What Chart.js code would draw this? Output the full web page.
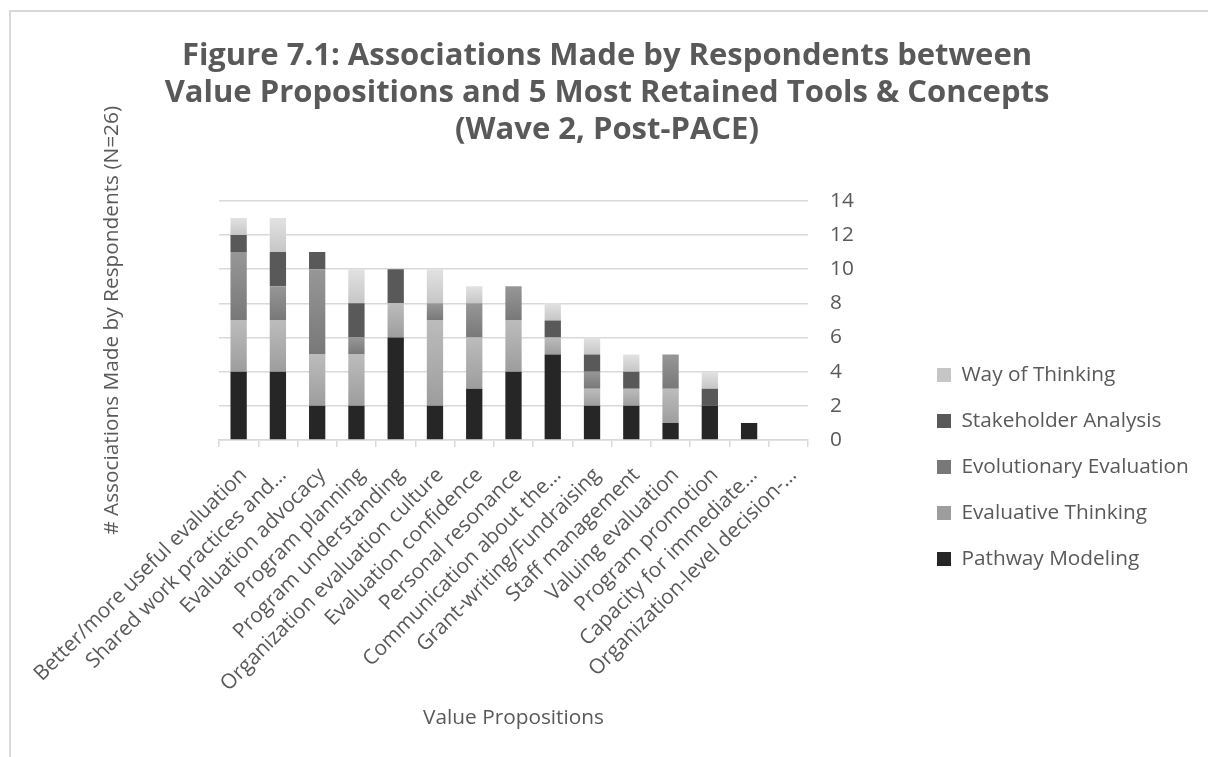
<!DOCTYPE html>
<html>
<head>
<meta charset="utf-8">
<script src="https://cdn.jsdelivr.net/npm/chart.js@4"></script>
<style>
  html, body { margin: 0; padding: 0; background: #fff; overflow: hidden; }
  #moldura { position: absolute; left: 9px; top: 10px; width: 1300px; height: 900px;
             border-left: 2px solid #d9d9d9; border-top: 2px solid #d9d9d9; }
  canvas { position: absolute; left: 0; top: 0; }
</style>
</head>
<body>
<div id="moldura"></div>
<canvas id="graficoAssociacoes" width="1208" height="757"></canvas>
<script>
// Value propositions (categories, some truncated as in the original)
const categories = [
  'Better/more useful evaluation',
  'Shared work practices and…',
  'Evaluation advocacy',
  'Program planning',
  'Program understanding',
  'Organization evaluation culture',
  'Evaluation confidence',
  'Personal resonance',
  'Communication about the…',
  'Grant-writing/Fundraising',
  'Staff management',
  'Valuing evaluation',
  'Program promotion',
  'Capacity for immediate…',
  'Organization-level decision-…'
];

// Series values, bottom of the stack first
const pathwayModeling        = [4, 4, 2, 2, 6, 2, 3, 4, 5, 2, 2, 1, 2, 1, 0];
const evaluativeThinking     = [3, 3, 3, 3, 2, 5, 3, 3, 1, 1, 1, 2, 0, 0, 0];
const evolutionaryEvaluation = [4, 2, 5, 1, 0, 1, 2, 2, 0, 1, 0, 2, 0, 0, 0];
const stakeholderAnalysis    = [1, 2, 1, 2, 2, 0, 0, 0, 1, 1, 1, 0, 1, 0, 0];
const wayOfThinking          = [1, 2, 0, 2, 0, 2, 1, 0, 1, 1, 1, 0, 1, 0, 0];

const yTicks = [0, 2, 4, 6, 8, 10, 12, 14];

const cinzaTexto = '#595959';
const fonte = 'Open Sans';
const tamanho = 20.8;

// gradiente vertical por segmento (mais claro no topo), como no Excel
function gradiente(topo, base, solida) {
  return function (context) {
    const chart = context.chart;
    const y = chart.scales.y;
    if (context.type !== 'data' || !chart.chartArea || !y) return solida;
    const ds = context.datasetIndex;
    const i = context.dataIndex;
    let inicio = 0;
    for (let k = 0; k < ds; k++) inicio += chart.data.datasets[k].data[i];
    const fim = inicio + chart.data.datasets[ds].data[i];
    const y0 = y.getPixelForValue(fim);
    const y1 = y.getPixelForValue(inicio);
    if (!(y1 > y0)) return solida;
    const g = chart.ctx.createLinearGradient(0, y0, 0, y1);
    g.addColorStop(0, topo);
    g.addColorStop(1, base);
    return g;
  };
}

// ajusta posição do título e da legenda depois do layout
const ajusteLayout = {
  id: 'ajusteLayout',
  afterLayout(chart) {
    chart.titleBlock.left = 0;
    chart.titleBlock.right = 1214;
    const leg = chart.legend;
    const largura = leg.right - leg.left;
    leg.left = 911.8;
    leg.right = leg.left + largura;
    leg.top = 339.4;
  }
};

const ctxAssociacoes = document.getElementById('graficoAssociacoes').getContext('2d');
new Chart(ctxAssociacoes, {
  type: 'bar',
  data: {
    labels: categories,
    datasets: [
      { label: 'Pathway Modeling', data: pathwayModeling, backgroundColor: '#262626' },
      { label: 'Evaluative Thinking', data: evaluativeThinking, backgroundColor: gradiente('#bcbcbc', '#9d9d9d', '#ababab') },
      { label: 'Evolutionary Evaluation', data: evolutionaryEvaluation, backgroundColor: gradiente('#979797', '#787878', '#888888') },
      { label: 'Stakeholder Analysis', data: stakeholderAnalysis, backgroundColor: '#595959' },
      { label: 'Way of Thinking', data: wayOfThinking, backgroundColor: gradiente('#e2e2e2', '#c6c6c6', '#d4d4d4') }
    ]
  },
  options: {
    responsive: false,
    animation: false,
    layout: { padding: 0 },
    datasets: {
      bar: { barPercentage: 0.415, categoryPercentage: 1, borderWidth: 0 }
    },
    plugins: {
      title: {
        display: true,
        text: [
          'Figure 7.1: Associations Made by Respondents between',
          'Value Propositions and 5 Most Retained Tools & Concepts',
          '(Wave 2, Post-PACE)'
        ],
        color: cinzaTexto,
        font: { family: fonte, size: 31, weight: 'bold', lineHeight: 36.7 / 31 },
        padding: { top: 38.3, bottom: 52.4 }
      },
      legend: {
        position: 'right',
        align: 'start',
        reverse: true,
        maxWidth: 400,
        labels: {
          boxWidth: 14,
          boxHeight: 14,
          padding: 25.2,
          color: cinzaTexto,
          font: { family: fonte, size: tamanho }
        }
      },
      tooltip: { enabled: false }
    },
    scales: {
      x: {
        stacked: true,
        grid: { offset: true, drawOnChartArea: false, drawTicks: true, tickLength: 7, color: '#d9d9d9', lineWidth: 1.5 },
        border: { color: '#d9d9d9', width: 1.5 },
        ticks: {
          autoSkip: false, minRotation: 45, maxRotation: 45, padding: 16, labelOffset: 5,
          color: cinzaTexto, font: { family: fonte, size: tamanho }
        },
        title: {
          display: true, text: 'Value Propositions', color: cinzaTexto,
          font: { family: fonte, size: tamanho }, padding: { top: 0, bottom: 26.5 }
        },
        afterFit(s) { s.height = 317; }
      },
      y: {
        stacked: true,
        position: 'right',
        min: yTicks[0],
        max: yTicks[yTicks.length - 1],
        afterBuildTicks(s) { s.ticks = yTicks.map(v => ({ value: v })); },
        ticks: { padding: 22, color: cinzaTexto, font: { family: fonte, size: tamanho } },
        grid: { color: '#d9d9d9', lineWidth: 1.5, drawTicks: false },
        border: { display: false },
        afterFit(s) { s.width = 1208 - 808 - s.chart.legend.width; }
      },
      eixoTitulo: {
        type: 'linear',
        position: 'left',
        grid: { display: false },
        border: { display: false },
        ticks: { display: false },
        title: {
          display: true, text: '# Associations Made by Respondents (N=26)', color: cinzaTexto,
          font: { family: fonte, size: tamanho }, padding: { top: 100, bottom: 0 }
        },
        afterFit(s) { s.width = 219; }
      }
    }
  },
  plugins: [ajusteLayout]
});
</script>
</body>
</html>
